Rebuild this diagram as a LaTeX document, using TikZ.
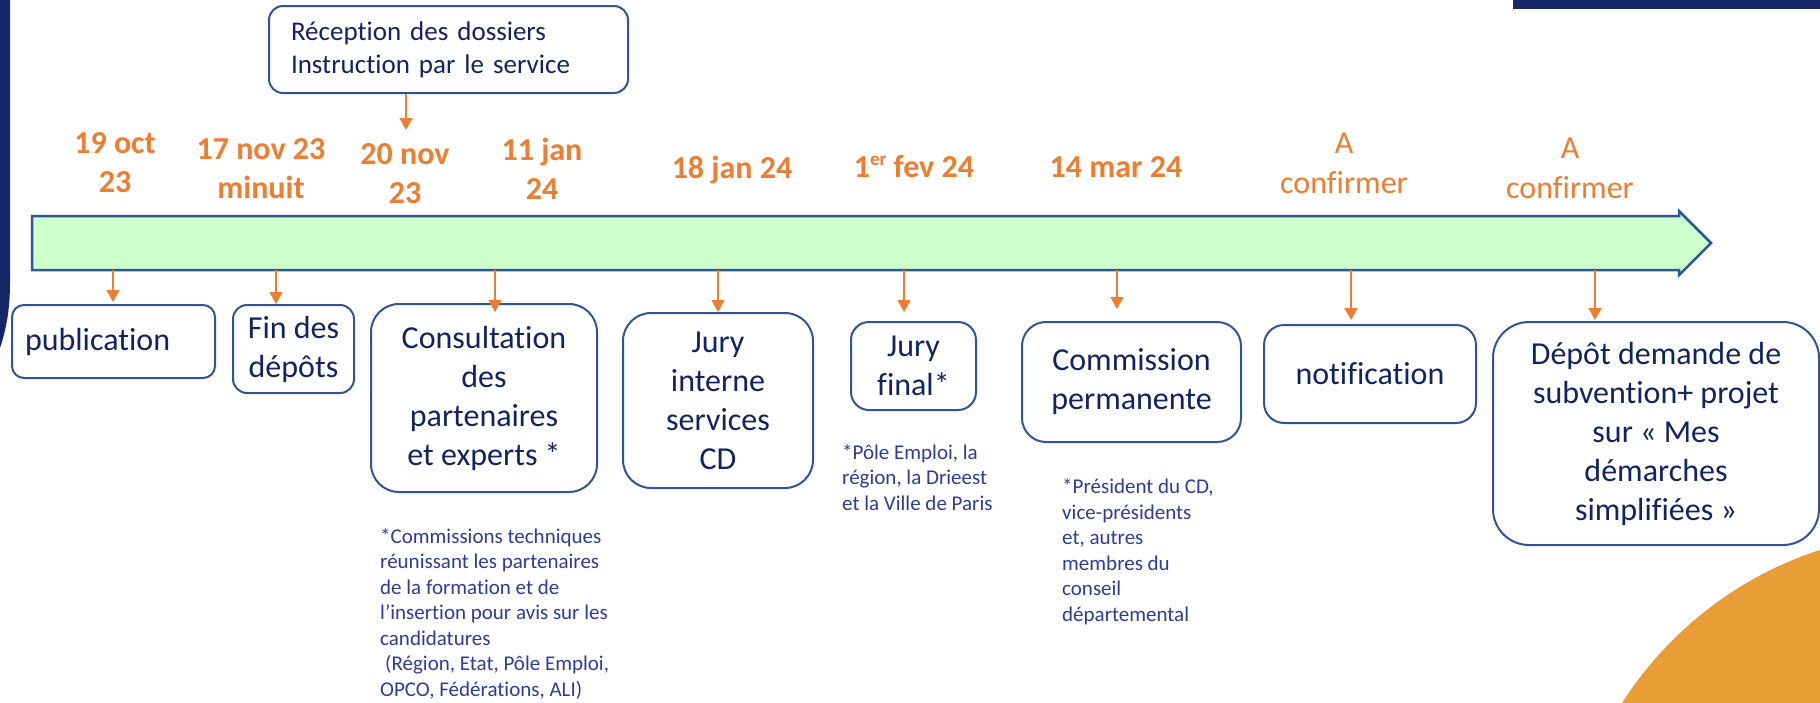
\documentclass[tikz,border=0pt]{standalone}
\usepackage{fontspec}
\setmainfont{Carlito}[RawFeature=-liga]
\usetikzlibrary{arrows.meta}
\definecolor{orangeT}{HTML}{ED7D31}
\definecolor{navyText}{HTML}{112461}
\definecolor{boxBlue}{HTML}{2F5597}
\definecolor{footBlue}{HTML}{2B3C9B}
\definecolor{barGreen}{HTML}{CCFFCC}
\definecolor{navyDecor}{HTML}{162767}
\definecolor{orangeC}{HTML}{E99D37}
\begin{document}
\begin{tikzpicture}[x=1pt,y=-1pt,
  box/.style={draw=boxBlue, fill=white, line width=2pt, align=center, text=navyText,
    font=\fontsize{32}{39}\selectfont, inner sep=0pt},
  datelbl/.style={text=orangeT, font=\bfseries\fontsize{32}{39}\selectfont, align=center, inner sep=0pt},
  conflbl/.style={text=orangeT, font=\fontsize{32}{40}\selectfont, align=center, inner sep=0pt},
  foot/.style={text=footBlue, font=\fontsize{21}{25.5}\selectfont, align=left, anchor=west, inner sep=0pt},
  arr/.style={draw=orangeT, line width=1.5pt, -{Triangle[length=12pt,width=13pt]}}
]
\useasboundingbox (0,0) rectangle (1820,702);
% decorations
\begin{scope}
  \clip (0,0) rectangle (1820,702);
  \fill[orangeC] (1934,902) circle (370pt);
  \fill[navyDecor] (1513,0) rectangle (1820,9);
  \fill[navyDecor] (0,0) -- (10,0) -- (10,283) .. controls (10,310) and (6,330) .. (0,348) -- cycle;
\end{scope}
% timeline bar
\draw[fill=barGreen, draw=boxBlue, line width=2.5pt, line join=miter]
  (32,216) -- (1679,216) -- (1679,211) -- (1711,243) -- (1679,275) -- (1679,270) -- (32,270) -- cycle;
% top box
\node[box, font=\fontsize{27}{33}\selectfont, text width=315pt, align=left,
  minimum width=359pt, minimum height=87pt, rounded corners=14pt] (recep) at (448.5,49.5)
  {Réception des dossiers\\Instruction par le service};
\coordinate (r1) at (406,130);
\draw[arr] (recep.south -| r1) -- (r1);
% dates
\node[datelbl] (d1) at (115,163) {19 oct\\23};
\node[datelbl] (d2) at (261,168.5) {17 nov 23\\minuit};
\node[datelbl] (d3) at (405,173.5) {20 nov\\23};
\node[datelbl] (d4) at (542,168.5) {11 jan\\24};
\node[datelbl] (d5) at (732,170) {18 jan 24};
\node[datelbl] (d6) at (914,166) {1\raisebox{.36em}{\fontsize{19}{19}\selectfont er} fev 24};
\node[datelbl] (d7) at (1116,167) {14 mar 24};
\node[conflbl] (d8) at (1344,163) {A\\confirmer};
\node[conflbl] (d9) at (1570,168) {A\\confirmer};
% boxes
\node[box, text width=177pt, align=left, minimum width=203pt, minimum height=73pt, rounded corners=12pt] (pub) at (113.5,341.5) {publication};
\node[box, minimum width=121pt, minimum height=88pt, rounded corners=14pt] (fin) at (293.5,349) {Fin des\\dépôts};
\node[box, minimum width=226pt, minimum height=188pt, rounded corners=28pt] (cons) at (484,398) {Consultation\\des\\partenaires\\et experts *};
\node[box, minimum width=190pt, minimum height=175pt, rounded corners=28pt] (jint) at (718,400.5) {Jury\\interne\\services\\CD};
\node[box, minimum width=125pt, minimum height=88pt, rounded corners=18pt] (jfin) at (913.5,366) {Jury\\final*};
\node[box, minimum width=219pt, minimum height=120pt, rounded corners=24pt] (comm) at (1131.5,382) {Commission\\permanente};
\node[box, minimum width=212pt, minimum height=98pt, rounded corners=20pt] (notif) at (1370,374) {notification};
\node[box, minimum width=326pt, minimum height=223pt, rounded corners=36pt] (depot) at (1656,433.5) {Dépôt demande de\\subvention+ projet\\sur « Mes\\démarches\\simplifiées »};
% connectors from the bar
\coordinate (b1) at (113,270);
\coordinate (b2) at (276,270);
\coordinate (b3) at (495,270);
\coordinate (b4) at (718,270);
\coordinate (b5) at (904,270);
\coordinate (b6) at (1117,270);
\coordinate (b7) at (1351,270);
\coordinate (b8) at (1595,270);
\draw[arr, shorten >=2pt] (b1) -- (b1 |- pub.north);
\draw[arr] (b2) -- (b2 |- fin.north);
\draw[arr, shorten >=-9pt] (b3) -- (b3 |- cons.north);
\draw[arr] (b4) -- (b4 |- jint.north);
\draw[arr, shorten >=9pt] (b5) -- (b5 |- jfin.north);
\draw[arr, shorten >=12pt] (b6) -- (b6 |- comm.north);
\draw[arr, shorten >=4pt] (b7) -- (b7 |- notif.north);
\draw[arr, shorten >=1pt] (b8) -- (b8 |- depot.north);
% footnotes
\node[foot] (f1) at (380,613.5) {*Commissions techniques\\réunissant les partenaires\\de la formation et de\\l’insertion pour avis sur les\\candidatures\\\hspace*{5pt}(Région, Etat, Pôle Emploi,\\OPCO, Fédérations, ALI)};
\node[foot] (f2) at (842,477.5) {*Pôle Emploi, la\\région, la Drieest\\et la Ville de Paris};
\node[foot] (f3) at (1062,551.5) {*Président du CD,\\vice-présidents\\et, autres\\membres du\\conseil\\départemental};
\end{tikzpicture}
\end{document}
